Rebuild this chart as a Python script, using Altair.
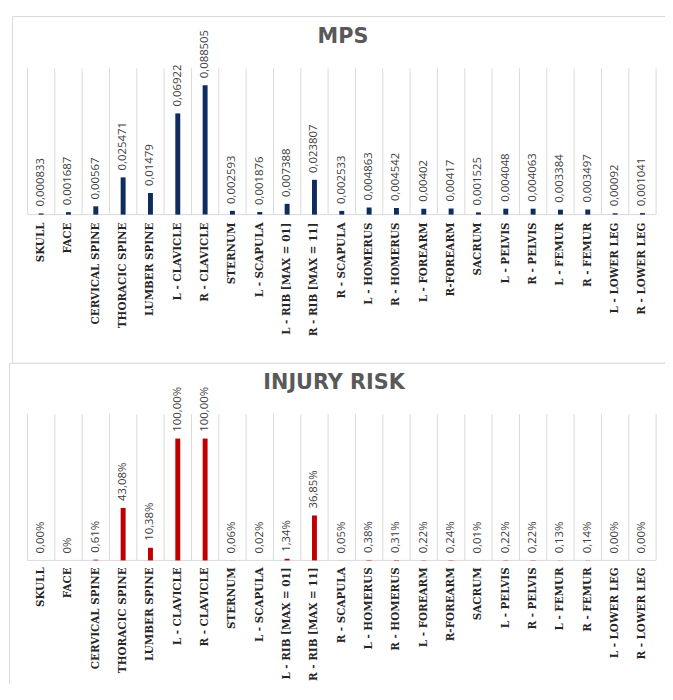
import altair as alt
import pandas as pd

categories = ["SKULL", "FACE", "CERVICAL SPINE", "THORACIC SPINE", "LUMBER SPINE",
              "L - CLAVICLE", "R - CLAVICLE", "STERNUM", "L - SCAPULA",
              "L - RIB [MAX = 01]", "R - RIB [MAX = 11]", "R - SCAPULA",
              "L - HOMERUS", "R - HOMERUS", "L - FOREARM", "R-FOREARM", "SACRUM",
              "L - PELVIS", "R - PELVIS", "L - FEMUR", "R - FEMUR",
              "L - LOWER LEG", "R - LOWER LEG"]
mps = [0.000833, 0.001687, 0.00567, 0.025471, 0.01479, 0.06922, 0.088505,
       0.002593, 0.001876, 0.007388, 0.023807, 0.002533, 0.004863, 0.004542,
       0.00402, 0.00417, 0.001525, 0.004048, 0.004063, 0.003384, 0.003497,
       0.00092, 0.001041]
# injury risk in percent (tiny values shown as 0,00%)
risk_pct = [0.004, 0.0, 0.61, 43.08, 10.38, 100.0, 100.0, 0.06, 0.02, 1.34,
            36.85, 0.05, 0.38, 0.31, 0.22, 0.24, 0.01, 0.22, 0.22, 0.13, 0.14,
            0.003, 0.002]
titles = ["MPS", "INJURY RISK"]

df = pd.DataFrame({
    "cat": categories,
    "mps": mps,
    "risk": [v / 100 for v in risk_pct],
    "mps_label": [str(v).replace(".", ",") for v in mps],
    "risk_label": ["0%" if v == 0 else f"{v:.2f}%".replace(".", ",") for v in risk_pct],
})
one = pd.DataFrame({"a": [0]})

GRID = "#D9D9D9"
xs = alt.Scale(domain=categories, range=[19.7, 656.0], paddingInner=0, paddingOuter=0)
X = alt.X("cat:N", scale=xs, axis=None)
Y_top = alt.Y("mps:Q", scale=alt.Scale(domain=[0, 0.1], range=[205, 57], nice=False), axis=None)
Y_bot = alt.Y("risk:Q", scale=alt.Scale(domain=[0, 1.2], range=[555, 407], nice=False), axis=None)

base = alt.Chart(df)

border_top = alt.Chart(one).mark_rect(fill="transparent", stroke=GRID, strokeWidth=1, clip=True).encode(
    x=alt.value(4.5), x2=alt.value(720), y=alt.value(4.5), y2=alt.value(355.5))
border_bot = alt.Chart(one).mark_rect(fill="white", stroke=GRID, strokeWidth=1, clip=True).encode(
    x=alt.value(1.5), x2=alt.value(720), y=alt.value(355.5), y2=alt.value(760))


def grid(y0, y1):
    g1 = base.mark_rule(color=GRID, strokeWidth=1).encode(
        x=alt.X("cat:N", scale=xs, axis=None, bandPosition=0),
        y=alt.value(y0), y2=alt.value(y1))
    g2 = base.transform_filter(alt.datum.cat == categories[-1]).mark_rule(color=GRID, strokeWidth=1).encode(
        x=alt.X("cat:N", scale=xs, axis=None, bandPosition=1),
        y=alt.value(y0), y2=alt.value(y1))
    axis_line = alt.Chart(one).mark_rule(color=GRID, strokeWidth=1).encode(
        x=alt.value(19.7), x2=alt.value(656), y=alt.value(y1))
    return [g1, g2, axis_line]


top_bars = base.mark_bar(size=5, color="#0E2C5E").encode(x=X, y=Y_top)
bot_bars = base.mark_bar(size=5, color="#C00000").encode(x=X, y=Y_bot)

val_style = dict(angle=270, align="left", baseline="middle", dx=7,
                 font="Open Sans", fontSize=11.5, color="#404040")
top_vals = base.mark_text(**val_style).encode(x=X, y=Y_top, text="mps_label:N")
bot_vals = base.mark_text(**val_style).encode(x=X, y=Y_bot, text="risk_label:N")

cat_style = dict(angle=270, align="right", baseline="middle", font="DejaVu Serif",
                 fontWeight="bold", fontSize=10.5, color="#262626")
top_cats = base.mark_text(**cat_style).encode(x=X, y=alt.value(213), text="cat:N")
bot_cats = base.mark_text(**cat_style).encode(x=X, y=alt.value(562), text="cat:N")

title_style = dict(align="center", baseline="middle", font="DejaVu Sans",
                   fontWeight="bold", fontSize=21, color="#595959")
t1 = alt.Chart(one).mark_text(**title_style).encode(x=alt.value(339), y=alt.value(25), text=alt.value(titles[0]))
t2 = alt.Chart(one).mark_text(**title_style).encode(x=alt.value(330), y=alt.value(375), text=alt.value(titles[1]))

layers = [border_top, border_bot] + grid(57, 205) + grid(407, 555) + [
    top_bars, top_vals, top_cats, bot_bars, bot_vals, bot_cats, t1, t2]

chart = alt.layer(*layers).resolve_scale(y="independent").properties(
    width=665, height=680,
    autosize=alt.AutoSizeParams(type="none"),
    padding=0,
    background="white",
).configure_view(strokeWidth=0)

chart.save("out.html", embed_options={"renderer": "svg", "actions": False})
